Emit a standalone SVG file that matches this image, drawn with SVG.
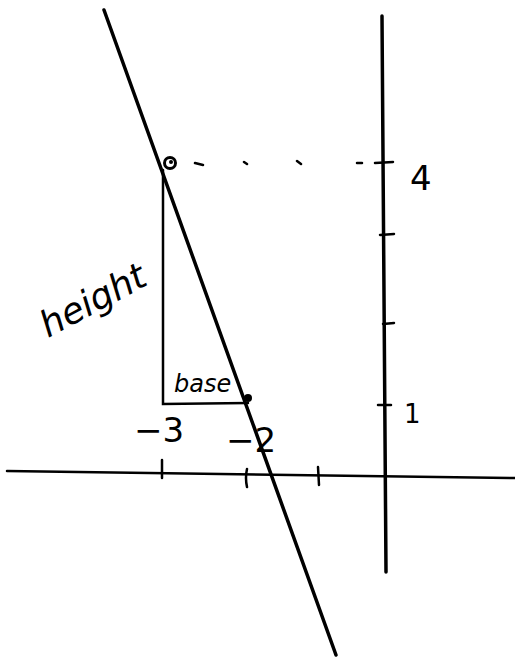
<svg xmlns="http://www.w3.org/2000/svg" width="515" height="659" viewBox="0 0 515 659">
<style>
.ln{stroke:#000;fill:none;stroke-linecap:round}
.t{font-family:"DejaVu Sans","Liberation Sans",sans-serif;fill:#000}
</style>
<rect width="515" height="659" fill="#fff"/>
<g id="axes">
<path class="ln" d="M7,471 L515,478" stroke-width="2.5"/>
<path class="ln" d="M382,16 Q384,300 386,572" stroke-width="3.5"/>
<path class="ln" d="M162,460 L162,478 M247,469 Q245,478 247,487 M318,467 L319,485" stroke-width="2.5"/>
<path class="ln" d="M375,163 L393,162 M380,235 L394,234 M383,324 L394,323 M378,405 L391,405" stroke-width="2.5"/>
</g>
<g id="connectors">
<path class="ln" d="M104,10 L336,655" stroke-width="3.5"/>
<path class="ln" d="M163,170 L163,404 L248,403" stroke-width="2.5"/>
<path class="ln" d="M195,163 L203,165 M244,162 L247,164 M297,161 L301,164 M357,163 L362,163" stroke-width="2.5"/>
</g>
<g id="point-top">
<circle cx="170" cy="163" r="5.5" fill="#fff" stroke="#000" stroke-width="3"/>
<circle cx="171" cy="162" r="2" fill="#000"/>
</g>
<g id="point-bottom">
<circle cx="248" cy="398" r="4" fill="#000"/>
</g>
<g id="labels">
<text class="t" x="410" y="190" font-size="34">4</text>
<text class="t" x="404" y="423" font-size="26">1</text>
<text class="t" x="134" y="442" font-size="34">−3</text>
<text class="t" x="226" y="452" font-size="34">−2</text>
<text class="t" x="174" y="392" font-size="24" font-style="italic">base</text>
<text class="t" x="48" y="338" font-size="36" font-style="italic" transform="rotate(-28 48 338)">height</text>
</g>
</svg>
